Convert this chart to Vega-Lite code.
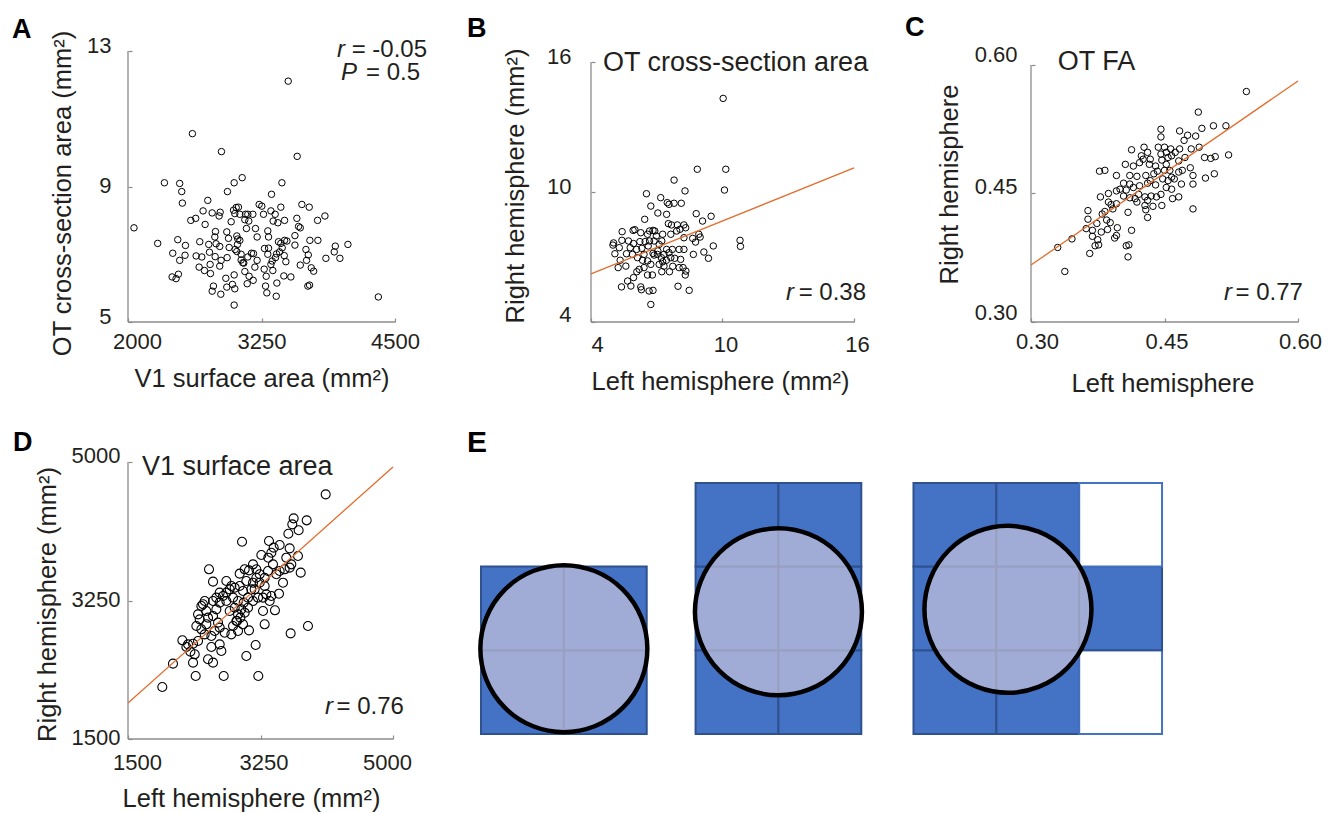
{
  "$schema": "https://vega.github.io/schema/vega-lite/v6.json",
  "padding": {"left": 12, "top": 13, "right": 5, "bottom": 5},
  "autosize": {"type": "pad"},
  "columns": 3,
  "bounds": "flush",
  "spacing": {"row": 140, "column": 88},
  "datasets": {
    "ptsA": [
      {"x":3500,"y":12.11},{"x":2603,"y":10.56},{"x":2875,"y":10.03},{"x":3584,"y":9.89},{"x":2056,"y":7.78},{"x":4344,"y":5.74},{"x":2994,"y":5.50},{"x":2341,"y":9.11},{"x":2484,"y":9.09},{"x":2503,"y":8.85},{"x":2509,"y":8.51},{"x":2994,"y":9.11},{"x":3069,"y":9.26},{"x":2931,"y":8.85},{"x":3441,"y":9.11},{"x":3344,"y":8.77},{"x":2747,"y":8.59},{"x":2278,"y":7.32},{"x":2419,"y":7.03},{"x":2466,"y":7.43},{"x":2484,"y":6.82},{"x":2413,"y":6.33},{"x":2450,"y":6.28},{"x":2472,"y":6.41},{"x":2538,"y":7.26},{"x":2534,"y":6.97},{"x":2588,"y":8.0},{"x":2634,"y":8.06},{"x":2703,"y":8.28},{"x":2722,"y":7.88},{"x":2788,"y":8.22},{"x":2863,"y":8.24},{"x":2853,"y":8.13},{"x":2672,"y":7.37},{"x":2638,"y":6.95},{"x":2666,"y":6.62},{"x":2716,"y":6.52},{"x":2691,"y":6.92},{"x":2756,"y":7.29},{"x":2763,"y":7.06},{"x":2769,"y":6.70},{"x":2772,"y":6.43},{"x":2819,"y":7.67},{"x":2813,"y":7.51},{"x":2825,"y":7.31},{"x":2816,"y":6.93},{"x":2859,"y":7.23},{"x":2872,"y":6.82},{"x":2859,"y":6.65},{"x":2800,"y":6.06},{"x":2788,"y":5.91},{"x":2869,"y":5.82},{"x":2916,"y":6.29},{"x":2925,"y":6.03},{"x":2978,"y":6.11},{"x":2994,"y":6.39},{"x":3000,"y":5.98},{"x":2966,"y":7.96},{"x":2925,"y":7.66},{"x":2941,"y":7.47},{"x":2947,"y":7.20},{"x":2928,"y":6.90},{"x":2988,"y":8.30},{"x":3013,"y":8.38},{"x":3034,"y":8.39},{"x":3000,"y":8.20},{"x":3047,"y":8.18},{"x":3019,"y":7.54},{"x":3028,"y":7.45},{"x":3047,"y":7.41},{"x":3025,"y":7.29},{"x":3003,"y":7.14},{"x":3019,"y":7.08},{"x":3059,"y":7.00},{"x":3059,"y":6.83},{"x":3075,"y":6.75},{"x":3100,"y":8.18},{"x":3122,"y":8.18},{"x":3094,"y":8.02},{"x":3131,"y":7.98},{"x":3109,"y":7.76},{"x":3209,"y":7.51},{"x":3169,"y":8.18},{"x":3156,"y":7.03},{"x":3175,"y":7.02},{"x":3122,"y":6.92},{"x":3084,"y":6.74},{"x":3094,"y":6.49},{"x":3134,"y":6.35},{"x":3116,"y":6.13},{"x":3172,"y":6.23},{"x":3188,"y":6.62},{"x":3209,"y":6.82},{"x":3194,"y":7.76},{"x":3228,"y":8.47},{"x":3253,"y":8.42},{"x":3269,"y":8.18},{"x":3338,"y":8.28},{"x":3378,"y":8.18},{"x":3359,"y":7.98},{"x":3403,"y":7.93},{"x":3466,"y":8.0},{"x":3431,"y":8.39},{"x":3309,"y":7.69},{"x":3316,"y":7.51},{"x":3278,"y":7.17},{"x":3316,"y":7.18},{"x":3309,"y":7.0},{"x":3275,"y":6.56},{"x":3294,"y":6.35},{"x":3288,"y":6.06},{"x":3300,"y":5.86},{"x":3388,"y":5.76},{"x":3394,"y":6.15},{"x":3350,"y":6.80},{"x":3338,"y":6.70},{"x":3356,"y":6.52},{"x":3381,"y":6.90},{"x":3391,"y":7.01},{"x":3419,"y":7.07},{"x":3444,"y":7.19},{"x":3431,"y":7.32},{"x":3466,"y":7.41},{"x":3488,"y":7.39},{"x":3409,"y":7.37},{"x":3463,"y":6.96},{"x":3478,"y":6.78},{"x":3459,"y":6.36},{"x":3525,"y":6.33},{"x":3563,"y":7.55},{"x":3563,"y":7.27},{"x":3581,"y":8.06},{"x":3597,"y":7.82},{"x":3613,"y":7.78},{"x":3628,"y":8.47},{"x":3697,"y":8.39},{"x":3666,"y":7.14},{"x":3613,"y":6.68},{"x":3672,"y":6.82},{"x":3688,"y":6.98},{"x":3716,"y":6.60},{"x":3738,"y":6.50},{"x":3684,"y":6.06},{"x":3700,"y":6.09},{"x":3703,"y":7.41},{"x":3778,"y":7.41},{"x":3775,"y":8.0},{"x":3844,"y":8.13},{"x":3853,"y":6.88},{"x":3941,"y":7.24},{"x":3931,"y":7.07},{"x":3984,"y":6.88},{"x":4059,"y":7.29}
    ],
    "ptsB": [
      {"x":10.03,"y":14.32},{"x":8.85,"y":11.05},{"x":10.15,"y":11.05},{"x":10.09,"y":10.09},{"x":7.79,"y":10.55},{"x":8.29,"y":10.05},{"x":6.53,"y":9.92},{"x":7.18,"y":9.74},{"x":6.73,"y":9.35},{"x":7.48,"y":9.51},{"x":7.56,"y":9.43},{"x":7.79,"y":9.48},{"x":8.12,"y":9.48},{"x":7.05,"y":9.03},{"x":7.45,"y":8.97},{"x":8.80,"y":9.0},{"x":9.48,"y":8.88},{"x":9.09,"y":8.66},{"x":6.45,"y":8.74},{"x":7.53,"y":8.54},{"x":7.67,"y":8.48},{"x":7.94,"y":8.48},{"x":8.24,"y":8.48},{"x":8.32,"y":8.35},{"x":6.91,"y":8.20},{"x":6.67,"y":8.20},{"x":6.83,"y":8.23},{"x":6.0,"y":8.26},{"x":5.42,"y":8.17},{"x":5.92,"y":8.23},{"x":6.27,"y":8.12},{"x":6.58,"y":8.05},{"x":6.98,"y":7.97},{"x":7.27,"y":8.05},{"x":7.64,"y":8.05},{"x":7.91,"y":8.20},{"x":8.06,"y":8.28},{"x":8.24,"y":7.89},{"x":8.64,"y":7.86},{"x":8.92,"y":8.05},{"x":8.98,"y":7.92},{"x":8.77,"y":7.69},{"x":9.58,"y":7.51},{"x":10.80,"y":7.77},{"x":10.82,"y":7.49},{"x":9.15,"y":7.23},{"x":9.36,"y":6.94},{"x":8.67,"y":7.12},{"x":8.24,"y":7.35},{"x":8.02,"y":7.35},{"x":7.71,"y":7.35},{"x":7.45,"y":7.35},{"x":7.23,"y":7.74},{"x":7.11,"y":7.58},{"x":6.88,"y":7.74},{"x":6.67,"y":7.74},{"x":6.47,"y":7.71},{"x":6.23,"y":7.71},{"x":5.94,"y":7.62},{"x":5.71,"y":7.74},{"x":5.41,"y":7.77},{"x":5.03,"y":7.65},{"x":5.0,"y":7.55},{"x":5.29,"y":7.43},{"x":5.79,"y":7.43},{"x":6.08,"y":7.35},{"x":6.32,"y":7.40},{"x":6.61,"y":7.51},{"x":6.83,"y":7.17},{"x":7.03,"y":7.12},{"x":7.21,"y":6.97},{"x":7.27,"y":6.78},{"x":7.44,"y":6.85},{"x":7.64,"y":6.97},{"x":7.82,"y":6.94},{"x":8.09,"y":6.89},{"x":8.20,"y":6.51},{"x":8.30,"y":6.17},{"x":8.33,"y":6.35},{"x":8.02,"y":6.51},{"x":7.73,"y":6.57},{"x":7.33,"y":6.58},{"x":7.11,"y":6.66},{"x":6.73,"y":6.66},{"x":6.58,"y":6.82},{"x":6.35,"y":6.85},{"x":6.12,"y":6.97},{"x":5.89,"y":7.12},{"x":5.62,"y":7.15},{"x":5.09,"y":7.15},{"x":5.33,"y":6.85},{"x":5.24,"y":6.51},{"x":5.59,"y":6.58},{"x":6.09,"y":6.32},{"x":5.94,"y":6.05},{"x":5.67,"y":5.89},{"x":5.39,"y":5.62},{"x":5.82,"y":5.66},{"x":6.27,"y":5.62},{"x":6.30,"y":5.49},{"x":6.65,"y":5.43},{"x":6.83,"y":5.46},{"x":6.73,"y":4.81},{"x":6.58,"y":6.17},{"x":6.80,"y":6.17},{"x":7.23,"y":6.32},{"x":7.58,"y":6.32},{"x":7.97,"y":5.65},{"x":8.48,"y":5.46},{"x":6.88,"y":7.09},{"x":7.05,"y":7.28},{"x":7.33,"y":7.12},{"x":7.56,"y":7.20},{"x":6.42,"y":7.12},{"x":6.20,"y":6.43},{"x":6.42,"y":6.51}
    ],
    "ptsC": [
      {"x":0.542,"y":0.569},{"x":0.488,"y":0.545},{"x":0.519,"y":0.529},{"x":0.505,"y":0.529},{"x":0.492,"y":0.526},{"x":0.446,"y":0.525},{"x":0.467,"y":0.523},{"x":0.476,"y":0.518},{"x":0.485,"y":0.517},{"x":0.446,"y":0.516},{"x":0.472,"y":0.512},{"x":0.467,"y":0.502},{"x":0.443,"y":0.504},{"x":0.450,"y":0.504},{"x":0.452,"y":0.498},{"x":0.427,"y":0.504},{"x":0.413,"y":0.501},{"x":0.480,"y":0.502},{"x":0.489,"y":0.504},{"x":0.495,"y":0.492},{"x":0.502,"y":0.491},{"x":0.507,"y":0.493},{"x":0.522,"y":0.495},{"x":0.506,"y":0.473},{"x":0.496,"y":0.468},{"x":0.482,"y":0.471},{"x":0.482,"y":0.461},{"x":0.469,"y":0.461},{"x":0.479,"y":0.480},{"x":0.466,"y":0.488},{"x":0.458,"y":0.494},{"x":0.454,"y":0.492},{"x":0.447,"y":0.489},{"x":0.452,"y":0.484},{"x":0.434,"y":0.490},{"x":0.433,"y":0.484},{"x":0.440,"y":0.482},{"x":0.442,"y":0.476},{"x":0.438,"y":0.473},{"x":0.426,"y":0.490},{"x":0.422,"y":0.486},{"x":0.406,"y":0.484},{"x":0.415,"y":0.482},{"x":0.411,"y":0.471},{"x":0.419,"y":0.470},{"x":0.429,"y":0.471},{"x":0.396,"y":0.471},{"x":0.377,"y":0.476},{"x":0.383,"y":0.477},{"x":0.404,"y":0.462},{"x":0.411,"y":0.461},{"x":0.400,"y":0.455},{"x":0.407,"y":0.454},{"x":0.415,"y":0.457},{"x":0.422,"y":0.459},{"x":0.431,"y":0.462},{"x":0.434,"y":0.465},{"x":0.440,"y":0.460},{"x":0.448,"y":0.467},{"x":0.454,"y":0.465},{"x":0.461,"y":0.467},{"x":0.458,"y":0.455},{"x":0.452,"y":0.457},{"x":0.446,"y":0.449},{"x":0.441,"y":0.446},{"x":0.435,"y":0.447},{"x":0.431,"y":0.442},{"x":0.428,"y":0.436},{"x":0.429,"y":0.431},{"x":0.431,"y":0.422},{"x":0.437,"y":0.435},{"x":0.447,"y":0.436},{"x":0.459,"y":0.444},{"x":0.466,"y":0.446},{"x":0.482,"y":0.432},{"x":0.421,"y":0.449},{"x":0.417,"y":0.444},{"x":0.419,"y":0.440},{"x":0.411,"y":0.445},{"x":0.409,"y":0.428},{"x":0.413,"y":0.407},{"x":0.404,"y":0.447},{"x":0.396,"y":0.453},{"x":0.387,"y":0.450},{"x":0.378,"y":0.446},{"x":0.387,"y":0.440},{"x":0.390,"y":0.437},{"x":0.396,"y":0.438},{"x":0.392,"y":0.432},{"x":0.383,"y":0.429},{"x":0.380,"y":0.426},{"x":0.364,"y":0.430},{"x":0.364,"y":0.420},{"x":0.362,"y":0.409},{"x":0.369,"y":0.407},{"x":0.374,"y":0.415},{"x":0.385,"y":0.419},{"x":0.389,"y":0.416},{"x":0.397,"y":0.410},{"x":0.386,"y":0.408},{"x":0.379,"y":0.405},{"x":0.369,"y":0.400},{"x":0.375,"y":0.396},{"x":0.372,"y":0.389},{"x":0.376,"y":0.390},{"x":0.366,"y":0.380},{"x":0.394,"y":0.398},{"x":0.396,"y":0.401},{"x":0.407,"y":0.389},{"x":0.410,"y":0.390},{"x":0.409,"y":0.376},{"x":0.346,"y":0.397},{"x":0.330,"y":0.387},{"x":0.338,"y":0.359},{"x":0.428,"y":0.446},{"x":0.424,"y":0.494},{"x":0.431,"y":0.498},{"x":0.446,"y":0.496},{"x":0.457,"y":0.502},{"x":0.462,"y":0.498},{"x":0.473,"y":0.492},{"x":0.458,"y":0.469},{"x":0.466,"y":0.475},{"x":0.470,"y":0.477},{"x":0.456,"y":0.477},{"x":0.450,"y":0.477}
    ],
    "ptsD": [
      {"x":4111,"y":4591},{"x":3688,"y":4288},{"x":3860,"y":4263},{"x":3670,"y":4212},{"x":3618,"y":4094},{"x":3754,"y":4137},{"x":3006,"y":3993},{"x":3362,"y":4002},{"x":3424,"y":3918},{"x":3503,"y":3951},{"x":3635,"y":3909},{"x":3393,"y":3854},{"x":3353,"y":3791},{"x":3261,"y":3825},{"x":3745,"y":3812},{"x":3591,"y":3791},{"x":3657,"y":3707},{"x":3781,"y":3602},{"x":3547,"y":3475},{"x":3494,"y":3336},{"x":3441,"y":3126},{"x":3327,"y":3328},{"x":3283,"y":3286},{"x":3305,"y":3433},{"x":3239,"y":3581},{"x":3195,"y":3644},{"x":3151,"y":3707},{"x":3098,"y":3631},{"x":3041,"y":3644},{"x":2975,"y":3589},{"x":3063,"y":3496},{"x":3151,"y":3475},{"x":3195,"y":3538},{"x":3239,"y":3475},{"x":3173,"y":3391},{"x":3129,"y":3391},{"x":3085,"y":3286},{"x":3019,"y":3370},{"x":2975,"y":3433},{"x":2909,"y":3412},{"x":2843,"y":3391},{"x":2799,"y":3349},{"x":2755,"y":3307},{"x":2799,"y":3244},{"x":2887,"y":3286},{"x":2953,"y":3244},{"x":3028,"y":3223},{"x":3085,"y":3159},{"x":3041,"y":3096},{"x":2984,"y":3033},{"x":2931,"y":2991},{"x":2887,"y":2928},{"x":2953,"y":2865},{"x":2865,"y":2822},{"x":2777,"y":2843},{"x":2711,"y":2907},{"x":2689,"y":2970},{"x":2623,"y":3054},{"x":2667,"y":3138},{"x":2711,"y":3223},{"x":2623,"y":3244},{"x":2570,"y":3644},{"x":2623,"y":3488},{"x":2513,"y":3244},{"x":2491,"y":3202},{"x":2425,"y":3075},{"x":2447,"y":3012},{"x":2557,"y":3033},{"x":2535,"y":2949},{"x":2403,"y":2928},{"x":2469,"y":2886},{"x":2513,"y":2822},{"x":2601,"y":2801},{"x":2645,"y":2865},{"x":2711,"y":2696},{"x":2733,"y":2612},{"x":2601,"y":2662},{"x":2557,"y":2507},{"x":2623,"y":2465},{"x":2425,"y":2738},{"x":2359,"y":2704},{"x":2293,"y":2696},{"x":2218,"y":2747},{"x":2271,"y":2662},{"x":2324,"y":2604},{"x":2381,"y":2570},{"x":2359,"y":2465},{"x":2394,"y":2296},{"x":2094,"y":2452},{"x":1953,"y":2157},{"x":2764,"y":2296},{"x":3221,"y":2296},{"x":3063,"y":2549},{"x":3186,"y":2688},{"x":3098,"y":2873},{"x":3305,"y":2949},{"x":3648,"y":2835},{"x":3877,"y":2928},{"x":3019,"y":2949},{"x":2953,"y":3075},{"x":2940,"y":2991},{"x":3151,"y":3244},{"x":3217,"y":3286},{"x":3283,"y":3117},{"x":3371,"y":3244},{"x":3393,"y":3307},{"x":3459,"y":3581},{"x":3503,"y":3623},{"x":3569,"y":3644},{"x":3635,"y":3665},{"x":3415,"y":3707},{"x":3349,"y":3623},{"x":3305,"y":3538},{"x":2799,"y":3496},{"x":2865,"y":3433},{"x":2711,"y":3349},{"x":2667,"y":3286},{"x":2535,"y":3117},{"x":2469,"y":3181},{"x":2843,"y":3117},{"x":2909,"y":3159},{"x":2997,"y":3138}
    ],
    "regB": [{"x":4,"y":6.22},{"x":16,"y":11.11}],
    "regC": [{"x":0.3,"y":0.3665},{"x":0.6,"y":0.5813}],
    "regD": [{"x":1500,"y":1955},{"x":5000,"y":4937}],
    "cellsE": [
      {"x0":0,"x1":1,"y0":0,"y1":1,"kind":"blue"},{"x0":1,"x1":2,"y0":0,"y1":1,"kind":"blue"},{"x0":0,"x1":1,"y0":1,"y1":2,"kind":"blue"},{"x0":1,"x1":2,"y0":1,"y1":2,"kind":"blue"},
      {"x0":2.59,"x1":3.59,"y0":0,"y1":1,"kind":"blue"},{"x0":3.59,"x1":4.59,"y0":0,"y1":1,"kind":"blue"},{"x0":2.59,"x1":3.59,"y0":1,"y1":2,"kind":"blue"},{"x0":3.59,"x1":4.59,"y0":1,"y1":2,"kind":"blue"},{"x0":2.59,"x1":3.59,"y0":2,"y1":3,"kind":"blue"},{"x0":3.59,"x1":4.59,"y0":2,"y1":3,"kind":"blue"},
      {"x0":5.22,"x1":6.22,"y0":0,"y1":1,"kind":"blue"},{"x0":6.22,"x1":7.22,"y0":0,"y1":1,"kind":"blue"},{"x0":7.22,"x1":8.22,"y0":0,"y1":1,"kind":"white"},
      {"x0":5.22,"x1":6.22,"y0":1,"y1":2,"kind":"blue"},{"x0":6.22,"x1":7.22,"y0":1,"y1":2,"kind":"blue"},{"x0":7.22,"x1":8.22,"y0":1,"y1":2,"kind":"blue"},
      {"x0":5.22,"x1":6.22,"y0":2,"y1":3,"kind":"blue"},{"x0":6.22,"x1":7.22,"y0":2,"y1":3,"kind":"blue"},{"x0":7.22,"x1":8.22,"y0":2,"y1":3,"kind":"white"}
    ],
    "circlesE": [{"cx":1.0,"cy":1.02},{"cx":3.59,"cy":1.46},{"cx":6.36,"cy":1.49}]
  },
  "concat": [
    {
      "width": 375, "height": 271,
      "title": {"text": "A", "dx": -116, "offset": -13.5},
      "layer": [
        {"data": {"values": [{}]}, "mark": {"type": "rule", "color": "#8c8c8c", "strokeWidth": 1.3},
         "encoding": {"x": {"datum": 2000}, "y": {"datum": 5}, "y2": {"datum": 13}}},
        {"data": {"values": [{}]}, "mark": {"type": "rule", "color": "#8c8c8c", "strokeWidth": 1.3},
         "encoding": {"y": {"datum": 5}, "x": {"datum": 2000}, "x2": {"datum": 4500}}},
        {"data": {"name": "ptsA"},
         "mark": {"type": "point", "shape": "circle", "size": 42, "filled": false, "stroke": "#000000", "strokeWidth": 1, "opacity": 1},
         "encoding": {
           "x": {"field": "x", "type": "quantitative", "scale": {"domain": [2000, 5511.2], "nice": false, "zero": false},
                 "axis": {"title": "V1 surface area (mm²)", "values": [2000, 3250, 4500], "format": "d", "titleX": 133.5, "titleY": 44.5, "labelPadding": 13.4,
                          "labelOffset": {"condition": {"test": "datum.value == 2000", "value": 9}, "value": 0}}},
           "y": {"field": "y", "type": "quantitative", "scale": {"domain": [5, 13], "nice": false, "zero": false},
                 "axis": {"title": "OT cross-section area (mm²)", "values": [5, 9, 13], "format": "d", "titleX": -53, "titleY": 142, "labelPadding": 21,
                          "labelOffset": {"condition": {"test": "datum.value == 9", "value": -1}, "value": -6}}}
         }},
        {"data": {"values": [{}]}, "mark": {"type": "text", "align": "right", "baseline": "middle", "fontSize": 24},
         "encoding": {"x": {"datum": 4800}, "y": {"datum": 13.018}, "text": {"value": "= -0.05"}}},
        {"data": {"values": [{}]}, "mark": {"type": "text", "align": "right", "baseline": "middle", "fontSize": 24, "fontStyle": "italic", "dx": -82},
         "encoding": {"x": {"datum": 4800}, "y": {"datum": 13.018}, "text": {"value": "r"}}},
        {"data": {"values": [{}]}, "mark": {"type": "text", "align": "right", "baseline": "middle", "fontSize": 24},
         "encoding": {"x": {"datum": 4734}, "y": {"datum": 12.34}, "text": {"value": "= 0.5"}}},
        {"data": {"values": [{}]}, "mark": {"type": "text", "align": "right", "baseline": "middle", "fontSize": 24, "fontStyle": "italic", "dx": -63},
         "encoding": {"x": {"datum": 4734}, "y": {"datum": 12.34}, "text": {"value": "P"}}}
      ]
    },
    {
      "width": 352, "height": 271,
      "title": {"text": "B", "dx": -124, "offset": 2.7},
      "layer": [
        {"data": {"values": [{}]}, "mark": {"type": "rule", "color": "#8c8c8c", "strokeWidth": 1.3},
         "encoding": {"x": {"datum": 4}, "y": {"datum": 4}, "y2": {"datum": 16}}},
        {"data": {"values": [{}]}, "mark": {"type": "rule", "color": "#8c8c8c", "strokeWidth": 1.3},
         "encoding": {"y": {"datum": 4}, "x": {"datum": 4}, "x2": {"datum": 16}}},
        {"data": {"name": "ptsB"},
         "mark": {"type": "point", "shape": "circle", "size": 42, "filled": false, "stroke": "#000000", "strokeWidth": 1, "opacity": 1},
         "encoding": {
           "x": {"field": "x", "type": "quantitative", "scale": {"domain": [4, 20.061], "nice": false, "zero": false},
                 "axis": {"title": "Left hemisphere (mm²)", "values": [4, 10, 16], "format": "d", "titleX": 129, "titleY": 47.5, "labelPadding": 16.4,
                          "labelOffset": {"condition": {"test": "datum.value == 4", "value": 6}, "value": 3}}},
           "y": {"field": "y", "type": "quantitative", "scale": {"domain": [4, 16.508], "nice": false, "zero": false},
                 "axis": {"title": "Right hemisphere (mm²)", "values": [4, 10, 16], "format": "d", "titleX": -63, "titleY": 134.5, "labelPadding": 24,
                          "labelOffset": {"condition": {"test": "datum.value == 4", "value": -7.5}, "value": -5.5}}}
         }},
        {"data": {"name": "regB"}, "mark": {"type": "line", "color": "#E36C2C", "strokeWidth": 1.3},
         "encoding": {"x": {"field": "x", "type": "quantitative"}, "y": {"field": "y", "type": "quantitative"}}},
        {"data": {"values": [{}]}, "mark": {"type": "text", "align": "left", "baseline": "middle", "fontSize": 27},
         "encoding": {"x": {"datum": 4.55}, "y": {"datum": 15.95}, "text": {"value": "OT cross-section area"}}},
        {"data": {"values": [{}]}, "mark": {"type": "text", "align": "right", "baseline": "middle", "fontSize": 24},
         "encoding": {"x": {"datum": 16.55}, "y": {"datum": 5.34}, "text": {"value": "= 0.38"}}},
        {"data": {"values": [{}]}, "mark": {"type": "text", "align": "right", "baseline": "middle", "fontSize": 24, "fontStyle": "italic", "dx": -72},
         "encoding": {"x": {"datum": 16.55}, "y": {"datum": 5.34}, "text": {"value": "r"}}}
      ]
    },
    {
      "width": 267, "height": 271,
      "title": {"text": "C", "dx": -126, "offset": 2.2},
      "layer": [
        {"data": {"values": [{}]}, "mark": {"type": "rule", "color": "#8c8c8c", "strokeWidth": 1.3},
         "encoding": {"x": {"datum": 0.3}, "y": {"datum": 0.3}, "y2": {"datum": 0.6}}},
        {"data": {"values": [{}]}, "mark": {"type": "rule", "color": "#8c8c8c", "strokeWidth": 1.3},
         "encoding": {"y": {"datum": 0.3}, "x": {"datum": 0.3}, "x2": {"datum": 0.6}}},
        {"data": {"name": "ptsC"},
         "mark": {"type": "point", "shape": "circle", "size": 42, "filled": false, "stroke": "#000000", "strokeWidth": 1, "opacity": 1},
         "encoding": {
           "x": {"field": "x", "type": "quantitative", "scale": {"domain": [0.3, 0.6], "nice": false, "zero": false},
                 "axis": {"title": "Left hemisphere", "values": [0.3, 0.45, 0.6], "format": ".2f", "titleX": 131.5, "titleY": 49, "labelPadding": 13.4,
                          "labelOffset": {"condition": {"test": "datum.value == 0.3", "value": 6}, "value": 2}}},
           "y": {"field": "y", "type": "quantitative", "scale": {"domain": [0.3, 0.6163], "nice": false, "zero": false},
                 "axis": {"title": "Right hemisphere", "values": [0.3, 0.45, 0.6], "format": ".2f", "titleX": -69, "titleY": 133, "labelPadding": 18,
                          "labelOffset": {"condition": {"test": "datum.value == 0.45", "value": -6.5}, "value": -10}}}
         }},
        {"data": {"name": "regC"}, "mark": {"type": "line", "color": "#E36C2C", "strokeWidth": 1.3},
         "encoding": {"x": {"field": "x", "type": "quantitative"}, "y": {"field": "y", "type": "quantitative"}}},
        {"data": {"values": [{}]}, "mark": {"type": "text", "align": "left", "baseline": "middle", "fontSize": 27},
         "encoding": {"x": {"datum": 0.33}, "y": {"datum": 0.6035}, "text": {"value": "OT FA"}}},
        {"data": {"values": [{}]}, "mark": {"type": "text", "align": "right", "baseline": "middle", "fontSize": 24},
         "encoding": {"x": {"datum": 0.6056}, "y": {"datum": 0.3334}, "text": {"value": "= 0.77"}}},
        {"data": {"values": [{}]}, "mark": {"type": "text", "align": "right", "baseline": "middle", "fontSize": 24, "fontStyle": "italic", "dx": -71},
         "encoding": {"x": {"datum": 0.6056}, "y": {"datum": 0.3334}, "text": {"value": "r"}}}
      ]
    },
    {
      "width": 265, "height": 277,
      "title": {"text": "D", "dx": -115, "offset": -29},
      "layer": [
        {"layer": [
          {"data": {"values": [{}]}, "mark": {"type": "rule", "color": "#8c8c8c", "strokeWidth": 1.3},
           "encoding": {"x": {"datum": 1500}, "y": {"datum": 1500}, "y2": {"datum": 5000}}},
          {"data": {"values": [{}]}, "mark": {"type": "rule", "color": "#8c8c8c", "strokeWidth": 1.3},
           "encoding": {"y": {"datum": 1500}, "x": {"datum": 1500}, "x2": {"datum": 5000}}},
          {"data": {"name": "ptsD"},
           "mark": {"type": "point", "shape": "circle", "size": 81, "filled": false, "stroke": "#000000", "strokeWidth": 1.1, "opacity": 1},
           "encoding": {
             "x": {"field": "x", "type": "quantitative", "scale": {"domain": [1500, 5000], "nice": false, "zero": false},
                   "axis": {"title": "Left hemisphere (mm²)", "values": [1500, 3250, 5000], "format": "d", "titleX": 123, "titleY": 47.5, "labelPadding": 17.4,
                            "labelOffset": {"condition": [{"test": "datum.value == 1500", "value": 9}, {"test": "datum.value == 5000", "value": -6}], "value": 3}}},
             "y": {"field": "y", "type": "quantitative", "scale": {"domain": [1500, 5000], "nice": false, "zero": false},
                   "axis": {"title": "Right hemisphere (mm²)", "values": [1500, 3250, 5000], "format": "d", "titleX": -68, "titleY": 142, "labelPadding": 12,
                            "labelOffset": {"condition": {"test": "datum.value == 5000", "value": -7}, "value": -1.5}}}
           }},
          {"data": {"name": "regD"}, "mark": {"type": "line", "color": "#E36C2C", "strokeWidth": 1.3},
           "encoding": {"x": {"field": "x", "type": "quantitative"}, "y": {"field": "y", "type": "quantitative"}}},
          {"data": {"values": [{}]}, "mark": {"type": "text", "align": "left", "baseline": "middle", "fontSize": 27},
           "encoding": {"x": {"datum": 1685}, "y": {"datum": 4935}, "text": {"value": "V1 surface area"}}},
          {"data": {"values": [{}]}, "mark": {"type": "text", "align": "right", "baseline": "middle", "fontSize": 24},
           "encoding": {"x": {"datum": 5145}, "y": {"datum": 1906}, "text": {"value": "= 0.76"}}},
          {"data": {"values": [{}]}, "mark": {"type": "text", "align": "right", "baseline": "middle", "fontSize": 24, "fontStyle": "italic", "dx": -71},
           "encoding": {"x": {"datum": 5145}, "y": {"datum": 1906}, "text": {"value": "r"}}}
        ]},
        {"layer": [
          {"data": {"name": "cellsE"},
           "mark": {"type": "rect", "strokeWidth": 2},
           "encoding": {
             "x": {"field": "x0", "type": "quantitative", "scale": {"domain": [-4.2607, -1.0622], "nice": false, "zero": false}, "axis": null},
             "x2": {"field": "x1"},
             "y": {"field": "y0", "type": "quantitative", "scale": {"domain": [-0.0597, 3.25], "nice": false, "zero": false}, "axis": null},
             "y2": {"field": "y1"},
             "fill": {"field": "kind", "type": "nominal", "scale": {"domain": ["blue", "white"], "range": ["#4472C4", "#FFFFFF"]}, "legend": null},
             "stroke": {"field": "kind", "type": "nominal", "scale": {"domain": ["blue", "white"], "range": ["#2F528F", "#4472C4"]}, "legend": null}
           }},
          {"data": {"name": "circlesE"},
           "mark": {"type": "point", "shape": "circle", "size": 27889, "filled": true, "fill": "#DFD4E2", "fillOpacity": 0.6, "stroke": "#000000", "strokeWidth": 4.5, "strokeOpacity": 1, "opacity": 1},
           "encoding": {
             "x": {"field": "cx", "type": "quantitative", "axis": null},
             "y": {"field": "cy", "type": "quantitative", "axis": null}
           }},
          {"data": {"values": [{}]}, "mark": {"type": "text", "align": "left", "baseline": "alphabetic", "fontSize": 30, "fontWeight": "bold", "color": "#000000"},
           "encoding": {"x": {"datum": -0.17}, "y": {"datum": 3.37}, "text": {"value": "E"}}}
        ]}
      ],
      "resolve": {"scale": {"x": "independent", "y": "independent"}}
    }
  ],
  "config": {
    "view": {"stroke": null},
    "font": "Liberation Sans",
    "axis": {
      "domain": false, "grid": false, "ticks": true, "tickSize": -4, "tickColor": "#8c8c8c", "tickWidth": 1.2,
      "labelFont": "Liberation Sans", "labelFontSize": 22, "labelColor": "#231f20", "labelFlush": false, "labelOverlap": false,
      "titleFont": "Liberation Sans", "titleFontSize": 25.5, "titleFontWeight": "normal", "titleColor": "#231f20"
    },
    "title": {"font": "Liberation Sans", "fontSize": 27, "fontWeight": "bold", "anchor": "start", "frame": "group", "color": "#000000", "baseline": "alphabetic"},
    "text": {"font": "Liberation Sans", "color": "#231f20"}
  }
}
